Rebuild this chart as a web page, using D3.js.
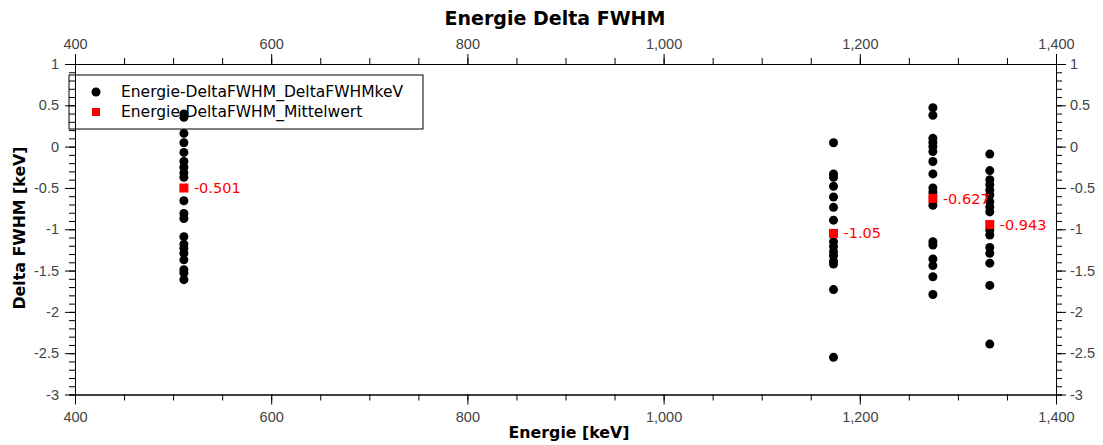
<!DOCTYPE html>
<html>
<head>
<meta charset="utf-8">
<script src="https://cdn.jsdelivr.net/npm/d3@7"></script>
<style>
  body { margin: 0; background: #fff; }
  svg { display: block; font-family: "DejaVu Sans", sans-serif; }
  .axis text { fill: #444; font-size: 14.5px; }
  .axis path, .axis line { stroke: #000; }
</style>
</head>
<body>
<script>
var w = 1103,
  h = 445;

// peak energies (keV) and measured Delta FWHM per peak
var energies = [511, 1173.2, 1274.5, 1332.5];
var delta511 = [0.395, 0.355, 0.16, 0.047, -0.07, -0.18, -0.25, -0.315, -0.37, -0.655,
  -0.81, -0.87, -1.09, -1.18, -1.23, -1.29, -1.37, -1.49, -1.53, -1.61];
var delta1173 = [0.047, -0.33, -0.37, -0.48, -0.61, -0.735, -0.89, -1.15, -1.21, -1.27,
  -1.32, -1.39, -1.42, -1.73, -2.55];
var delta1274 = [0.47, 0.38, 0.1, 0.05, 0, -0.06, -0.18, -0.33, -0.5, -0.55, -0.71,
  -1.15, -1.19, -1.36, -1.44, -1.575, -1.79];
var delta1332 = [-0.09, -0.29, -0.4, -0.46, -0.525, -0.585, -0.667, -0.73, -0.79, -1.01,
  -1.07, -1.22, -1.29, -1.41, -1.68, -2.39];
var meanValues = [-0.501, -1.05, -0.627, -0.943];
var meanLabels = ['-0.501', '-1.05', '-0.627', '-0.943'];
var legendNames = ['Energie-DeltaFWHM_DeltaFWHMkeV', 'Energie-DeltaFWHM_Mittelwert'];

var xTicks = [400, 600, 800, 1000, 1200, 1400];
var yTicks = [1, 0.5, 0, -0.5, -1, -1.5, -2, -2.5, -3];

var points = [];
[delta511, delta1173, delta1274, delta1332].forEach(function (arr, i) {
  arr.forEach(function (v) { points.push({ x: energies[i], y: v }); });
});

var x = d3.scaleLinear().domain([400, 1400]).range([75, 1056]);
var y = d3.scaleLinear().domain([-3, 1]).range([394.5, 64]);

var svg = d3.select('body').append('svg')
  .attr('width', w)
  .attr('height', h);

var fmtX = d3.format(',');
var fmtY = function (d) { return String(+d.toFixed(1)); };
var minorX = d3.range(400, 1401, 50);
var minorY = d3.range(-30, 11).map(function (d) { return d / 10; });

// minor ticks
svg.append('g').attr('class', 'axis').attr('transform', 'translate(0,' + y(-3) + ')')
  .call(d3.axisBottom(x).tickValues(minorX).tickSize(6).tickFormat(''));
svg.append('g').attr('class', 'axis').attr('transform', 'translate(0,' + y(1) + ')')
  .call(d3.axisTop(x).tickValues(minorX).tickSize(6).tickFormat(''));
svg.append('g').attr('class', 'axis').attr('transform', 'translate(' + x(400) + ',0)')
  .call(d3.axisLeft(y).tickValues(minorY).tickSize(6).tickFormat(''));
svg.append('g').attr('class', 'axis').attr('transform', 'translate(' + x(1400) + ',0)')
  .call(d3.axisRight(y).tickValues(minorY).tickSize(6).tickFormat(''));

// major ticks
svg.append('g').attr('class', 'axis').attr('transform', 'translate(0,' + y(-3) + ')')
  .call(d3.axisBottom(x).tickValues(xTicks).tickSize(10).tickSizeOuter(0).tickPadding(7).tickFormat(fmtX));
svg.append('g').attr('class', 'axis').attr('transform', 'translate(0,' + y(1) + ')')
  .call(d3.axisTop(x).tickValues(xTicks).tickSize(10).tickSizeOuter(0).tickPadding(5).tickFormat(fmtX));
svg.append('g').attr('class', 'axis').attr('transform', 'translate(' + x(400) + ',0)')
  .call(d3.axisLeft(y).tickValues(yTicks).tickSize(10).tickSizeOuter(0).tickPadding(6).tickFormat(fmtY));
svg.append('g').attr('class', 'axis').attr('transform', 'translate(' + x(1400) + ',0)')
  .call(d3.axisRight(y).tickValues(yTicks).tickSize(10).tickSizeOuter(0).tickPadding(4).tickFormat(fmtY));

// data points
svg.append('g').selectAll('circle')
  .data(points)
  .enter()
  .append('circle')
  .attr('cx', function (d) { return x(d.x); })
  .attr('cy', function (d) { return y(d.y); })
  .attr('r', 4.5)
  .attr('fill', '#000');

// mean values
svg.append('g').selectAll('rect')
  .data(meanValues)
  .enter()
  .append('rect')
  .attr('x', function (d, i) { return x(energies[i]) - 4.5; })
  .attr('y', function (d) { return y(d) - 4.5; })
  .attr('width', 9)
  .attr('height', 9)
  .attr('fill', '#f00');

svg.append('g').selectAll('text')
  .data(meanValues)
  .enter()
  .append('text')
  .attr('x', function (d, i) { return x(energies[i]) + 10; })
  .attr('y', function (d) { return y(d); })
  .attr('dy', '0.35em')
  .attr('fill', '#f00')
  .style('font-size', '14.5px')
  .text(function (d, i) { return meanLabels[i]; });

// titles
svg.append('text')
  .attr('x', 555).attr('y', 25)
  .attr('text-anchor', 'middle')
  .style('font-size', '19px').style('font-weight', 'bold')
  .text('Energie Delta FWHM');

svg.append('text')
  .attr('x', 569).attr('y', 438)
  .attr('text-anchor', 'middle')
  .style('font-size', '15.8px').style('font-weight', 'bold')
  .text('Energie [keV]');

svg.append('text')
  .attr('transform', 'translate(25,228) rotate(-90)')
  .attr('text-anchor', 'middle')
  .style('font-size', '15.8px').style('font-weight', 'bold')
  .text('Delta FWHM [keV]');

// legend
var legend = svg.append('g');
legend.append('rect')
  .attr('x', 69).attr('y', 75)
  .attr('width', 354).attr('height', 54)
  .attr('fill', 'none')
  .attr('stroke', '#000');

legend.append('circle')
  .attr('cx', 96).attr('cy', 92).attr('r', 4.5).attr('fill', '#000');
legend.append('rect')
  .attr('x', 92).attr('y', 108).attr('width', 8).attr('height', 8).attr('fill', '#f00');

legend.selectAll('text.leg')
  .data(legendNames)
  .enter()
  .append('text')
  .attr('class', 'leg')
  .attr('x', 121)
  .attr('y', function (d, i) { return 92 + i * 20; })
  .attr('dy', '0.35em')
  .style('font-size', '15.5px')
  .text(function (d) { return d; });
</script>
</body>
</html>
